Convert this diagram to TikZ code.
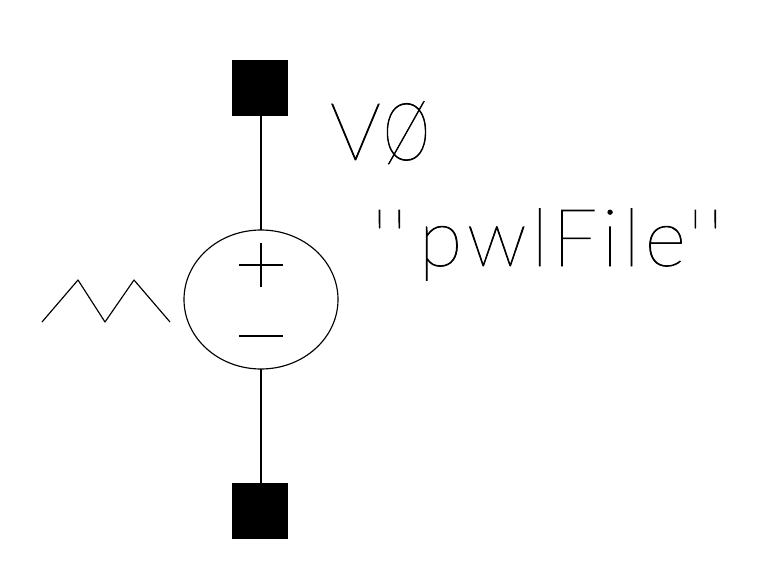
\documentclass[tikz,border=0pt]{standalone}
\usepackage{fontspec}
\usetikzlibrary{shapes.geometric}
\newfontfamily\thinfont[LetterSpace=6,RawFeature={embolden=1}]{Lato Hairline}
\tikzset{
  wire/.style={draw=black,line width=1.15pt},
  pin/.style={fill=black,draw=none,minimum width=56pt,minimum height=56pt,inner sep=0pt,outer sep=0pt,rectangle},
  source/.style={ellipse,draw=black,line width=1.15pt,minimum width=154pt,minimum height=139pt,inner sep=0pt,outer sep=0pt},
  label/.style={inner sep=0pt,outer sep=0pt,anchor=base west,font=\thinfont\fontsize{80}{80}\selectfont}
}
\begin{document}
\begin{tikzpicture}[x=1pt,y=-1pt]
\useasboundingbox (0,0) rectangle (773,580);
\node[pin] (top) at (259.5,88) {};
\node[pin] (bot) at (259.5,511) {};
\node[source] (src) at (261,299.5) {};
\draw[wire] (top.south -| src.north) -- (src.north);
\draw[wire] (src.south) -- (bot.north -| src.south);
\draw[wire] (261,243) -- (261,287);
\draw[wire] (239,265) -- (283,265);
\draw[wire] (239,336) -- (283,336);
\draw[wire,line join=round] (42,322) -- (78,280) -- (105,322) -- (134,280) -- (170,322);
\node[label] (name) at (330,160) {V\kern2pt\scalebox{0.75}[1]{Ø}};
\node[label] (value) at (372,266) {''\kern12pt pwlFile\kern2pt''};
\end{tikzpicture}
\end{document}
